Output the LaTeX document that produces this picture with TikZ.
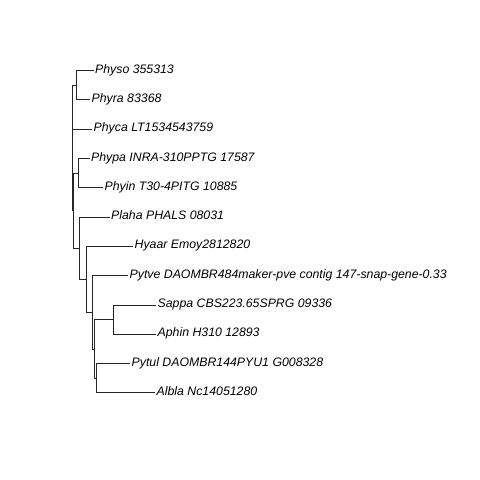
\documentclass[tikz,border=0pt]{standalone}
\usepackage{fontspec}
\setmainfont{Liberation Sans}
\begin{document}
\begin{tikzpicture}[x=1bp,y=-1bp,
  branch/.style={line width=0.7bp,draw=black!85},
  tiplabel/.style={anchor=mid west,inner sep=0pt,xshift=1.5bp,
    font=\fontsize{12.3bp}{14bp}\selectfont\itshape}]
\useasboundingbox[fill=white] (0,0) rectangle (480,480);
% internal nodes (x = depth, y = mean of children)
\coordinate (root) at (72.3,147.8);
\coordinate (n1) at (76.8,85.15);
\coordinate (r) at (73.3,210.5);
\coordinate (n2) at (78.3,173.05);
\coordinate (a) at (79.3,248.1);
\coordinate (b) at (86,279.25);
\coordinate (c) at (92,312.2);
\coordinate (d) at (94,348.85);
\coordinate (e) at (113.5,319.55);
\coordinate (f) at (96,378.15);
% tips
\coordinate (t1) at (93.5,70.5);
\coordinate (t2) at (90,99.8);
\coordinate (t3) at (92,129.1);
\coordinate (t4) at (89.5,158.4);
\coordinate (t5) at (103,187.7);
\coordinate (t6) at (109.5,217);
\coordinate (t7) at (133,246.3);
\coordinate (t8) at (128,275.6);
\coordinate (t9) at (156,304.9);
\coordinate (t10) at (156,334.2);
\coordinate (t11) at (130,363.5);
\coordinate (t12) at (155,392.8);
% labels
\node[tiplabel] (l1) at (t1) {Physo 355313};
\node[tiplabel] (l2) at (t2) {Phyra 83368};
\node[tiplabel] (l3) at (t3) {Phyca LT1534543759};
\node[tiplabel] (l4) at (t4) {Phypa INRA-310PPTG 17587};
\node[tiplabel] (l5) at (t5) {Phyin T30-4PITG 10885};
\node[tiplabel] (l6) at (t6) {Plaha PHALS 08031};
\node[tiplabel] (l7) at (t7) {Hyaar Emoy2812820};
\node[tiplabel] (l8) at (t8) {Pytve DAOMBR484maker-pve contig 147-snap-gene-0.33};
\node[tiplabel] (l9) at (t9) {Sappa CBS223.65SPRG 09336};
\node[tiplabel] (l10) at (t10) {Aphin H310 12893};
\node[tiplabel] (l11) at (t11) {Pytul DAOMBR144PYU1 G008328};
\node[tiplabel] (l12) at (t12) {Albla Nc14051280};
% branches
\draw[branch] (root) |- (n1);
\draw[branch] (root) |- (t3);
\draw[branch] (root) |- (r);
\draw[branch] (n1) |- (t1);
\draw[branch] (n1) |- (t2);
\draw[branch] (r) |- (n2);
\draw[branch] (r) |- (a);
\draw[branch] (n2) |- (t4);
\draw[branch] (n2) |- (t5);
\draw[branch] (a) |- (t6);
\draw[branch] (a) |- (b);
\draw[branch] (b) |- (t7);
\draw[branch] (b) |- (c);
\draw[branch] (c) |- (t8);
\draw[branch] (c) |- (d);
\draw[branch] (d) |- (e);
\draw[branch] (d) |- (f);
\draw[branch] (e) |- (t9);
\draw[branch] (e) |- (t10);
\draw[branch] (f) |- (t11);
\draw[branch] (f) |- (t12);
\end{tikzpicture}
\end{document}
